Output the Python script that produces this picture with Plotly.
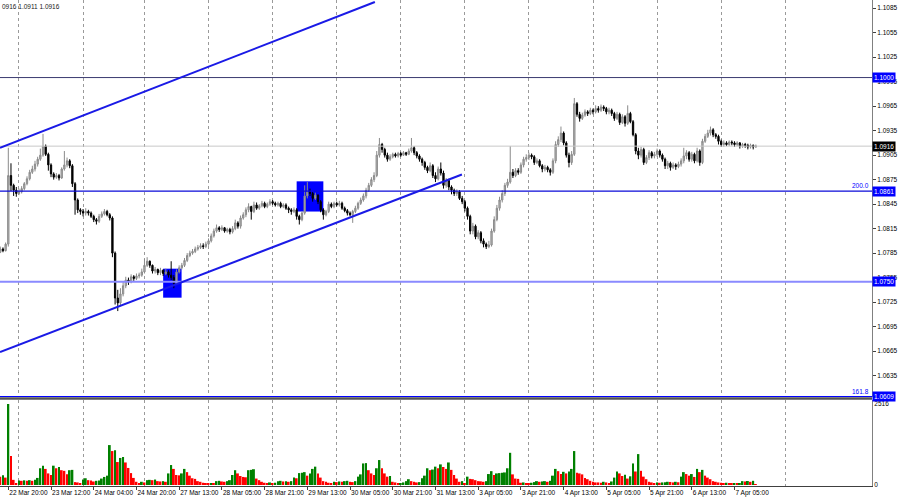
import plotly.graph_objects as go

# ---------------- data (prices in pips above 1.0000, i.e. 1 + v/10000) ----------------
first_bar = -3          # bar index of first visible H1 bar (0 = 22 Mar 20:00)
first_open = 786

closes = [
    790, 788, 796, 880, 868, 862, 858, 860, 864, 870, 876, 884, 888, 894, 900, 905,
    916, 906, 893, 882, 878, 880, 877, 888, 893, 898, 892, 870, 850, 838, 836, 834,
    836, 834, 830, 826, 824, 830, 833, 836, 832, 828, 785, 730, 724, 735, 745, 752,
    750, 756, 754, 757, 758, 762, 770, 775, 770, 763, 765, 761, 764, 760, 762, 758,
    755, 748, 762, 767, 770, 776, 782, 785, 787, 790, 792, 794, 793, 796, 800, 806,
    812, 816, 814, 816, 812, 814, 811, 815, 822, 818, 828, 832, 838, 842, 836, 844,
    840, 843, 846, 842, 845, 848, 846, 844, 846, 842, 844, 840, 838, 836, 838, 830,
    826, 834, 855, 860, 858, 852, 856, 848, 838, 832, 836, 845, 842, 846, 844, 846,
    840, 837, 834, 832, 836, 840, 846, 850, 855, 862, 868, 875, 880, 905, 918, 912,
    905, 900, 903, 906, 904, 907, 905, 908, 906, 910, 914, 908, 904, 900, 896, 890,
    886, 892, 880, 876, 888, 883, 868, 874, 866, 862, 858, 860, 852, 848, 840, 830,
    812, 818, 805, 810, 800, 796, 793, 795, 812, 826, 840, 850, 858, 868, 872, 884,
    880, 886, 884, 893, 900, 902, 905, 903, 896, 898, 892, 888, 890, 887, 884, 898,
    918, 924, 932, 920, 905, 896, 906, 968, 955, 950, 954, 958, 956, 960, 958, 962,
    960, 964, 962, 958, 960, 956, 950, 955, 945, 952, 944, 956, 946, 930, 910, 905,
    912, 896, 902, 908, 904, 906, 910, 905, 900, 892, 895, 890, 893, 891, 894, 898,
    904, 908, 900, 906, 898, 910, 896, 922, 928, 932, 936, 930, 928, 922, 918, 920,
    918, 921, 920, 918, 920, 916, 918, 917, 915, 917, 915, 916,
]

highs = [
    793, 792, 798, 914, 895, 870, 866, 864, 867, 872, 879, 887, 892, 898, 903, 913,
    931, 918, 908, 895, 884, 883, 882, 890, 910, 902, 900, 894, 872, 852, 840, 839,
    840, 838, 836, 832, 828, 833, 836, 839, 838, 834, 830, 787, 740, 742, 750, 756,
    755, 759, 758, 760, 761, 766, 778, 780, 776, 771, 768, 766, 767, 765, 766, 764,
    775, 758, 765, 770, 773, 779, 785, 788, 790, 793, 795, 797, 797, 799, 803, 809,
    815, 820, 818, 819, 817, 816, 816, 818, 826, 824, 831, 835, 841, 846, 843, 848,
    847, 845, 849, 848, 847, 851, 850, 848, 848, 848, 846, 846, 842, 840, 841, 840,
    832, 836, 868, 872, 864, 860, 859, 857, 850, 840, 838, 848, 847, 848, 848, 849,
    848, 842, 839, 836, 838, 843, 848, 853, 858, 865, 871, 878, 884, 910, 926, 920,
    914, 908, 906, 908, 908, 909, 909, 910, 909, 913, 926, 916, 910, 906, 902, 898,
    892, 896, 894, 884, 891, 896, 886, 877, 876, 868, 864, 863, 862, 855, 850, 842,
    832, 822, 820, 813, 812, 803, 798, 800, 815, 830, 844, 854, 862, 871, 876, 916,
    888, 889, 889, 896, 903, 906, 908, 907, 905, 901, 900, 894, 893, 892, 889, 901,
    922, 928, 940, 934, 922, 908, 910, 975, 970, 958, 957, 961, 960, 963, 962, 966,
    965, 967, 966, 964, 963, 962, 958, 958, 957, 955, 954, 966, 958, 948, 932, 914,
    915, 914, 905, 911, 910, 909, 913, 912, 907, 902, 898, 897, 896, 895, 897, 901,
    914, 911, 910, 909, 908, 914, 912, 925, 931, 936, 940, 938, 932, 930, 924, 923,
    922, 923, 923, 922, 922, 921, 920, 920, 919, 919, 918, 918,
]

lows = [
    785, 786, 787, 793, 861, 855, 854, 856, 858, 862, 868, 874, 882, 885, 891, 898,
    903, 904, 886, 878, 875, 876, 874, 876, 886, 890, 889, 866, 832, 834, 832, 830,
    831, 831, 828, 823, 820, 822, 828, 831, 830, 825, 780, 722, 714, 720, 732, 742,
    746, 748, 751, 752, 754, 756, 760, 768, 767, 760, 760, 758, 758, 757, 758, 755,
    752, 742, 746, 760, 765, 768, 774, 780, 783, 785, 788, 790, 790, 791, 794, 798,
    804, 810, 811, 812, 810, 810, 808, 809, 813, 815, 815, 826, 829, 835, 826, 834,
    838, 838, 841, 840, 840, 843, 844, 842, 842, 840, 840, 838, 834, 832, 834, 826,
    820, 824, 832, 852, 855, 848, 850, 845, 835, 826, 830, 834, 840, 840, 842, 842,
    838, 835, 831, 830, 822, 834, 838, 844, 848, 852, 860, 866, 872, 878, 902, 908,
    902, 897, 898, 901, 902, 902, 903, 904, 904, 905, 908, 905, 901, 897, 892, 887,
    883, 884, 877, 872, 874, 880, 864, 865, 862, 857, 855, 855, 850, 845, 836, 826,
    808, 808, 802, 802, 797, 792, 790, 791, 793, 810, 824, 837, 847, 855, 865, 870,
    877, 878, 881, 882, 890, 897, 899, 900, 893, 894, 890, 884, 885, 884, 880, 882,
    895, 915, 921, 917, 902, 890, 893, 904, 952, 946, 948, 952, 953, 954, 955, 956,
    957, 958, 959, 955, 955, 953, 947, 948, 942, 943, 940, 942, 944, 928, 906, 900,
    902, 893, 894, 899, 901, 901, 903, 902, 897, 888, 888, 886, 888, 887, 889, 891,
    895, 900, 897, 897, 895, 896, 892, 894, 920, 926, 929, 927, 925, 918, 915, 915,
    916, 916, 917, 915, 916, 913, 914, 914, 912, 913, 912, 914,
]

volumes = [
    260, 300, 230, 2516, 900, 160, 60, 140, 130, 145, 135, 150, 130, 160, 220, 520,
    600, 500, 360, 310, 600, 520, 560, 460, 440, 330, 460, 470, 90, 80, 60, 170,
    210, 150, 140, 110, 130, 140, 200, 250, 290, 1240, 1054, 1080, 713, 840, 870, 700,
    530, 370, 220, 100, 60, 100, 80, 150, 160, 150, 170, 120, 110, 120, 100, 360,
    620, 500, 310, 300, 360, 500, 400, 290, 210, 190, 120, 100, 70, 60, 50, 55,
    50, 120, 130, 110, 100, 120, 150, 310, 460, 360, 280, 250, 240, 460, 470, 490,
    200, 150, 100, 70, 60, 80, 60, 70, 120, 130, 110, 120, 100, 120, 230, 210,
    370, 380, 400, 290, 360, 500, 570, 360, 230, 120, 100, 70, 60, 100, 90, 110,
    100, 120, 130, 100, 90, 120, 260, 330, 670, 680, 460, 360, 310, 520, 775, 520,
    360, 260, 280, 100, 80, 50, 60, 80, 120, 180, 120, 100, 80, 90, 210, 290,
    520, 460, 480, 570, 520, 640, 560, 500, 700, 470, 310, 200, 100, 120, 50, 260,
    190, 180, 150, 120, 115, 100, 120, 340, 430, 310, 360, 370, 380, 390, 520, 1000,
    330, 200, 190, 70, 80, 60, 50, 70, 90, 120, 100, 110, 120, 100, 130, 290,
    500, 430, 340, 410, 360, 420, 500, 1054, 380, 360, 330, 220, 180, 130, 100, 80,
    80, 70, 100, 80, 60, 110, 230, 420, 360, 280, 320, 200, 270, 670, 420, 960,
    440, 260, 180, 100, 80, 50, 80, 70, 80, 85, 100, 95, 80, 100, 85, 260,
    400, 340, 290, 340, 250, 500, 400, 470, 290, 230, 180, 120, 100, 80, 70, 50,
    70, 60, 50, 60, 40, 50, 120, 110, 125, 100, 130, 20,
]

tick_bars = [0, 16, 32, 48, 64, 80, 96, 112, 128, 144, 160, 176, 192, 208, 224, 240, 256, 272]
tick_labels = ["22 Mar 20:00", "23 Mar 12:00", "24 Mar 04:00", "24 Mar 20:00", "27 Mar 13:00",
               "28 Mar 05:00", "28 Mar 21:00", "29 Mar 13:00", "30 Mar 05:00", "30 Mar 21:00",
               "31 Mar 13:00", "3 Apr 05:00", "3 Apr 21:00", "4 Apr 13:00", "5 Apr 05:00",
               "5 Apr 21:00", "6 Apr 13:00", "7 Apr 05:00"]
day_grid_bars = [4, 28, 51, 75, 99, 123, 147, 171, 195, 219, 243, 267, 291]

price_ticks = [1.0605, 1.0635, 1.0665, 1.0695, 1.0725, 1.0755, 1.0785, 1.0815, 1.0845,
               1.0875, 1.0905, 1.0935, 1.0965, 1.0995, 1.1025, 1.1055, 1.1085]
volume_ticks = [0, 2516]

# horizontal levels: price, colour, width
levels = [1.1000, 1.0916, 1.0861, 1.0750, 1.0609]
level_colors = ["#3a3a70", "#c8c8c8", "#0a0ad8", "#8a8aff", "#0000ff"]
level_widths = [1, 1, 1.3, 2, 1.5]
level_boxes = ["1.1000", "1.0916", "1.0861", "1.0750", "1.0609"]
level_box_bg = ["#0000ff", "#000000", "#0000ff", "#0000ff", "#0000ff"]
fib_labels = ["200.0", "161.8"]
fib_prices = [1.0861, 1.0609]

# channel lines (bar index, price)
upper_channel = [(-3.11, 1.09140), (137.3, 1.10925)]
lower_channel = [(-3.11, 1.06638), (169.9, 1.08813)]
# blue zones (bar0, bar1, price_low, price_high)
zones = [(58.0, 64.9, 1.07304, 1.07659), (108.0, 118.0, 1.08359, 1.08729)]

header_text = "0916 1.0911 1.0916"

# ---------------- build ----------------
bars = list(range(first_bar, first_bar + len(closes)))
opens = [first_open] + closes[:-1]
to_price = lambda v: 1 + v / 10000.0

vol_colors = ["#ff0000"] + ["#008000" if v > p else "#ff0000"
                            for p, v in zip(volumes, volumes[1:])]

FONT = "Liberation Sans"
FS = 6.5

fig = go.Figure()
fig.add_trace(go.Candlestick(
    x=bars,
    open=[to_price(v) for v in opens],
    high=[to_price(v) for v in highs],
    low=[to_price(v) for v in lows],
    close=[to_price(v) for v in closes],
    increasing=dict(line=dict(color="#8a8a8a", width=1), fillcolor="#b8b8b8"),
    decreasing=dict(line=dict(color="#000000", width=1), fillcolor="#000000"),
    whiskerwidth=0,
    xaxis="x", yaxis="y", showlegend=False, hoverinfo="skip",
))
fig.add_trace(go.Bar(
    x=bars, y=volumes, marker=dict(color=vol_colors, line=dict(width=0)),
    width=0.72, xaxis="x", yaxis="y2", showlegend=False, hoverinfo="skip",
))

shapes = []
for p, c, w in zip(levels, level_colors, level_widths):
    shapes.append(dict(type="line", xref="x domain", yref="y", x0=0, x1=1, y0=p, y1=p,
                       line=dict(color=c, width=w)))
for ch in (upper_channel, lower_channel):
    shapes.append(dict(type="line", xref="x", yref="y", x0=ch[0][0], y0=ch[0][1],
                       x1=ch[1][0], y1=ch[1][1], line=dict(color="#1a1ae6", width=2)))
for b0, b1, lo, hi in zones:
    shapes.append(dict(type="rect", xref="x", yref="y", x0=b0, x1=b1, y0=lo, y1=hi,
                       fillcolor="#0000ff", line=dict(width=0), layer="below"))
# pane separator
shapes.append(dict(type="line", xref="paper", yref="paper", x0=0, x1=1,
                   y0=0.1800, y1=0.1800, line=dict(color="#555555", width=2.5)))

annotations = [dict(text=header_text, xref="paper", yref="paper", x=0, y=1, xanchor="left",
                    yanchor="top", yshift=-1, showarrow=False,
                    font=dict(family=FONT, size=FS, color="#202020"))]
for t, p in zip(fib_labels, fib_prices):
    annotations.append(dict(text=t, xref="paper", yref="y", x=1, y=p, xanchor="right",
                            yanchor="bottom", xshift=-1, showarrow=False,
                            font=dict(family=FONT, size=FS, color="#0000ff")))
for t, p, bg in zip(level_boxes, levels, level_box_bg):
    annotations.append(dict(text=t, xref="paper", yref="y", x=1, y=p, xanchor="left",
                            yanchor="middle", xshift=0, showarrow=False, bgcolor=bg,
                            borderpad=1, font=dict(family=FONT, size=FS, color="#ffffff")))

fig.update_layout(
    width=900, height=500,
    margin=dict(l=0, r=28, t=0, b=14, autoexpand=False),
    paper_bgcolor="#ffffff", plot_bgcolor="#ffffff",
    font=dict(family=FONT, size=FS, color="#000000"),
    shapes=shapes, annotations=annotations,
    xaxis=dict(
        domain=[0, 1], range=[-3.11, 323.5], anchor="y2", automargin=False,
        tickmode="array", tickvals=tick_bars, ticktext=tick_labels, tickangle=0,
        ticklabelposition="outside right", ticks="outside", ticklen=3, tickcolor="#404040",
        showgrid=False, zeroline=False, showline=True, linecolor="#404040", linewidth=1,
        rangeslider=dict(visible=False), tickfont=dict(family=FONT, size=FS),
        minor=dict(tickmode="array", tickvals=day_grid_bars, showgrid=True,
                   gridcolor="#9a9a9a", griddash="dot", gridwidth=1, ticks=""),
    ),
    yaxis=dict(
        domain=[0.18313, 1], range=[1.060875, 1.1095], anchor="x", side="right",
        automargin=False,
        tickmode="array", tickvals=price_ticks, ticktext=["%.4f" % v for v in price_ticks],
        ticks="outside", ticklen=3, tickcolor="#404040", showgrid=False, zeroline=False,
        showline=True, linecolor="#808080", linewidth=1, tickfont=dict(family=FONT, size=FS),
    ),
    yaxis2=dict(
        domain=[0, 0.17695], range=[-31, 2640], anchor="x", side="right",
        automargin=False,
        tickmode="array", tickvals=volume_ticks, ticktext=[str(v) for v in volume_ticks],
        ticks="", showgrid=False, zeroline=False, showline=True, linecolor="#808080",
        linewidth=1, tickfont=dict(family=FONT, size=FS),
    ),
)

fig.write_html("out.html",
               config={"displayModeBar": False},
               post_script="document.body.style.margin='0';document.body.style.overflow='hidden';")
